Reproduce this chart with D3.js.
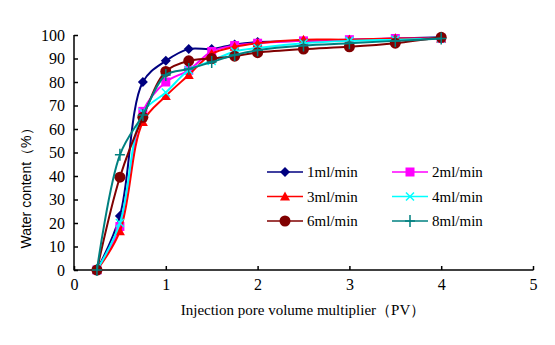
<!DOCTYPE html>
<html>
<head>
<meta charset="utf-8">
<script src="https://cdn.jsdelivr.net/npm/d3@7"></script>
<style>
    body { margin: 0; background: #fff; }
    text { font-family: "Liberation Serif", "Times New Roman", serif; fill: #000; }
</style>
</head>
<body>
<svg id="chart" width="555" height="345"></svg>
<script>
// injection pore volume (PV)
var pv = [0.25, 0.5, 0.75, 1, 1.25, 1.5, 1.75, 2, 2.5, 3, 3.5, 4];

// water content (%) per injection rate
var rate1 = [0, 23, 80, 89, 94, 94, 96, 97, 97.5, 98, 98.5, 99];
var rate2 = [0, 18.5, 67.5, 80, 85, 93, 95.5, 96.5, 97.5, 98, 98.5, 98.5];
var rate3 = [0, 16.5, 63, 74, 83, 92, 95, 96.5, 98, 98, 98.5, 98.5];
var rate4 = [0, 20, 67, 75.5, 85, 89, 93, 94.5, 96.5, 97.5, 98, 98.5];
var rate6 = [0, 39.5, 65, 84.5, 89, 90, 91, 92.5, 94, 95, 96.5, 99];
var rate8 = [0, 49, 66, 83, 85.5, 88.5, 91.5, 93.5, 95.5, 96.5, 97.5, 98.5];

var seriesNames = ['1ml/min', '2ml/min', '3ml/min', '4ml/min', '6ml/min', '8ml/min'];
var xTicks = [0, 1, 2, 3, 4, 5];
var yTicks = [0, 10, 20, 30, 40, 50, 60, 70, 80, 90, 100];

var series = [
    {name: seriesNames[0], values: rate1, color: '#000080', marker: 'diamond'},
    {name: seriesNames[1], values: rate2, color: '#ff00ff', marker: 'square'},
    {name: seriesNames[2], values: rate3, color: '#ff0000', marker: 'triangle'},
    {name: seriesNames[3], values: rate4, color: '#00ffff', marker: 'cross'},
    {name: seriesNames[4], values: rate6, color: '#800000', marker: 'circle'},
    {name: seriesNames[5], values: rate8, color: '#008080', marker: 'plus'}
];

var svg = d3.select('#chart'),
    x = d3.scaleLinear().domain([0, 5]).range([74, 533]),
    y = d3.scaleLinear().domain([0, 100]).range([270, 35]);

// axes with inward ticks
var xAxis = svg.append('g')
    .attr('transform', 'translate(0,270)')
    .call(d3.axisBottom(x).tickValues(xTicks).tickFormat(d3.format('d'))
        .tickSizeInner(-4).tickSizeOuter(0).tickPadding(9));
var yAxis = svg.append('g')
    .attr('transform', 'translate(74,0)')
    .call(d3.axisLeft(y).tickValues(yTicks).tickFormat(d3.format('d'))
        .tickSizeInner(-4).tickSizeOuter(0).tickPadding(9));

[xAxis, yAxis].forEach(function (a) {
    a.attr('font-family', '"Liberation Serif", serif').attr('font-size', 16);
    a.selectAll('path, line').attr('stroke', '#000').attr('stroke-width', 1.5);
    a.selectAll('text').attr('fill', '#000');
});
yAxis.select('.domain').attr('d', 'M0,35V270.5');
xAxis.select('.domain').attr('d', 'M74,0H533.5');

svg.append('text')
    .attr('x', 303)
    .attr('y', 315)
    .attr('text-anchor', 'middle')
    .style('font-size', '15px')
    .text('Injection pore volume multiplier（PV）');

svg.append('text')
    .attr('transform', 'translate(31,185) rotate(-90)')
    .attr('text-anchor', 'middle')
    .style('font-family', '"Liberation Sans", Arial, sans-serif')
    .style('font-size', '14px')
    .text('Water content（%）');

// draws a marker of the given kind centred on 0,0
function drawMarker(g, kind, color) {
    if (kind === 'diamond') {
        g.append('path').attr('d', 'M0,-5L5,0L0,5L-5,0Z').attr('fill', color);
    } else if (kind === 'square') {
        g.append('rect').attr('x', -4.5).attr('y', -4.5).attr('width', 9).attr('height', 9).attr('fill', color);
    } else if (kind === 'triangle') {
        g.append('path').attr('d', 'M0,-5L5,4L-5,4Z').attr('fill', color);
    } else if (kind === 'circle') {
        g.append('circle').attr('r', 5.5).attr('fill', color);
    } else if (kind === 'cross') {
        g.append('path').attr('d', 'M-4,-4L4,4M-4,4L4,-4').attr('stroke', color).attr('stroke-width', 1.5);
    } else if (kind === 'plus') {
        g.append('path').attr('d', 'M-5,0H5M0,-6V6').attr('stroke', color).attr('stroke-width', 1.5);
    }
}

var line = d3.line()
    .x(function (d) { return x(d.x); })
    .y(function (d) { return y(d.y); })
    .curve(d3.curveCatmullRom.alpha(0.5));

series.forEach(function (s) {
    var pts = pv.map(function (p, i) { return {x: p, y: s.values[i]}; });
    svg.append('path')
        .datum(pts)
        .attr('d', line)
        .attr('fill', 'none')
        .attr('stroke', s.color)
        .attr('stroke-width', 2);
    pts.forEach(function (p) {
        var g = svg.append('g').attr('transform', 'translate(' + x(p.x) + ',' + y(p.y) + ')');
        drawMarker(g, s.marker, s.color);
    });
});

// legend, two columns by three rows
var legend = svg.append('g');
series.forEach(function (s, i) {
    var col = i % 2,
        row = Math.floor(i / 2),
        lx = col === 0 ? 267 : 392,
        ly = 172 + row * 24.5;
    var g = legend.append('g').attr('transform', 'translate(' + lx + ',' + ly + ')');
    g.append('line').attr('x1', 0).attr('x2', 36).attr('stroke', s.color).attr('stroke-width', 1.5);
    drawMarker(g.append('g').attr('transform', 'translate(18,0)'), s.marker, s.color);
    g.append('text')
        .attr('x', 40)
        .attr('y', 5)
        .style('font-size', '15px')
        .text(s.name);
});
</script>
</body>
</html>
